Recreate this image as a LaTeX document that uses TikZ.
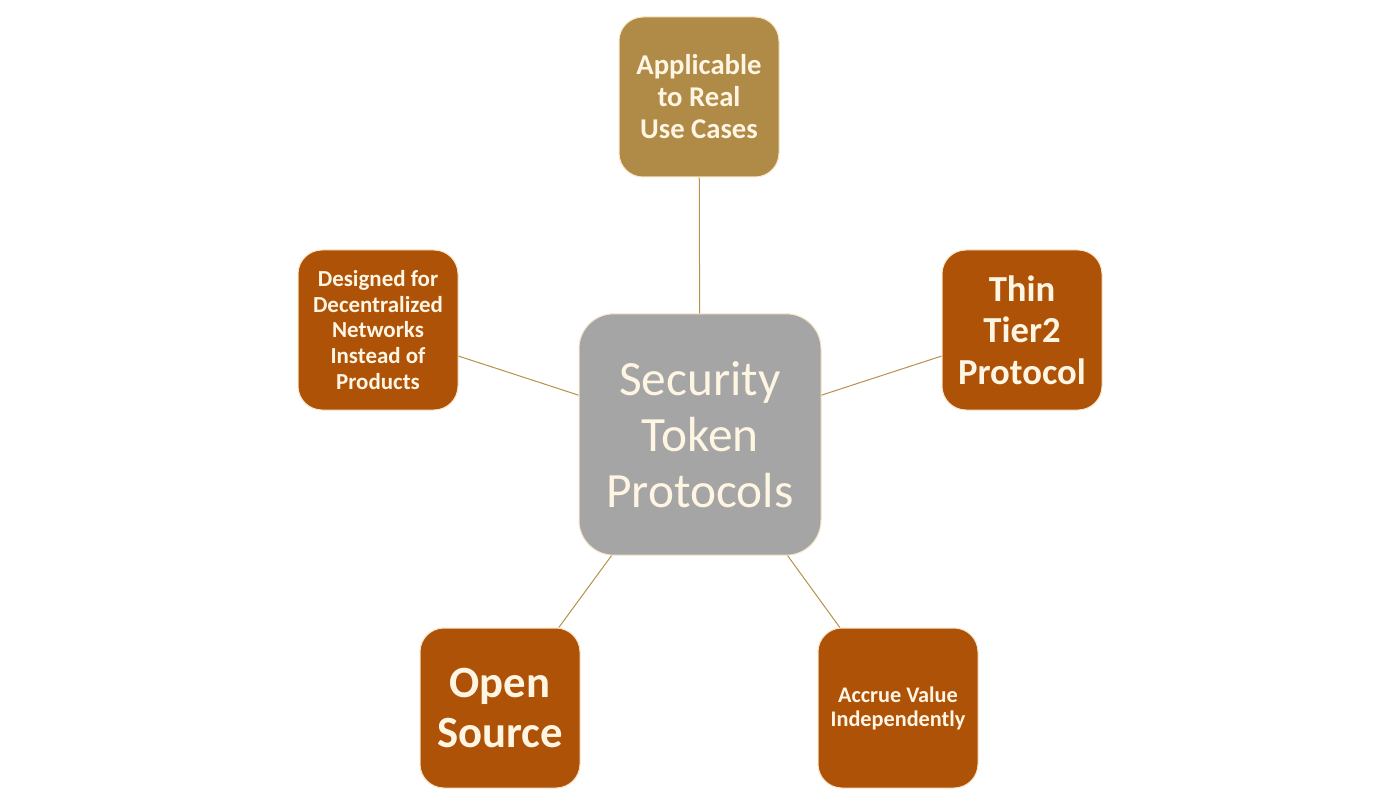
\documentclass[tikz,border=0pt]{standalone}
\usepackage{fontspec}
\setmainfont{Carlito}
\definecolor{gold}{HTML}{B08A47}
\definecolor{rust}{HTML}{AE5208}
\definecolor{greybox}{HTML}{A5A5A5}
\definecolor{cream}{HTML}{FFF5E3}
\definecolor{edgecream}{HTML}{F8E6C8}
\definecolor{linkc}{HTML}{B8924A}
\begin{document}
\begin{tikzpicture}[x=0.75pt,y=-0.75pt,
  outerbox/.style={draw=edgecream, line width=0.75pt, rounded corners=18pt,
    minimum width=120pt, minimum height=120pt, inner sep=0pt,
    align=center, text=cream},
  centerbox/.style={draw=edgecream, line width=0.75pt, rounded corners=26pt,
    fill=greybox, minimum width=181.5pt, minimum height=181pt, inner sep=0pt,
    align=center, text=cream},
  link/.style={draw=linkc, line width=0.75pt}]
\useasboundingbox (0,0) rectangle (1400,806);
\fill[white] (0,0) rectangle (1400,806);
\node[centerbox, font=\fontsize{37}{42}\selectfont] (c) at (700,434.5) {Security\\Token\\Protocols};
\node[outerbox, fill=gold, font=\bfseries\fontsize{21.5}{24}\selectfont] (top) at (699,97) {Applicable\\to Real\\Use Cases};
\node[outerbox, fill=rust, font=\bfseries\fontsize{17.2}{19.2}\selectfont] (left) at (378,330) {Designed for\\Decentralized\\Networks\\Instead of\\Products};
\node[outerbox, fill=rust, font=\bfseries\fontsize{27.5}{31}\selectfont] (right) at (1022,330) {Thin\\Tier2\\Protocol};
\node[outerbox, fill=rust, font=\bfseries\fontsize{33.5}{37}\selectfont] (bl) at (500,708) {Open\\Source};
\node[outerbox, fill=rust, font=\bfseries\fontsize{16.7}{18}\selectfont] (br) at (898,708) {Accrue Value\\Independently};
\draw[link] (c) -- (top);
\draw[link] (c) -- (left);
\draw[link] (c) -- (right);
\draw[link] (c) -- (bl);
\draw[link] (c) -- (br);
\end{tikzpicture}
\end{document}
